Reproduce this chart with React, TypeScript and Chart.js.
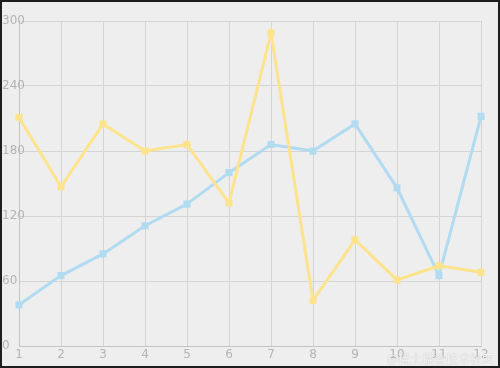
import React, { useEffect, useRef } from "react";
import { Chart, registerables } from "chart.js";

Chart.register(...registerables);

const categories = ["1", "2", "3", "4", "5", "6", "7", "8", "9", "10", "11", "12"];
const yellowValues = [211, 147, 205, 180, 186, 132, 289, 42, 98, 61, 74, 68];
const blueValues = [38, 65, 85, 111, 131, 160, 186, 180, 205, 146, 65, 212];
const yTickStep = 60;
const yMax = 300;

export default function App() {
  const ref = useRef<HTMLCanvasElement | null>(null);

  useEffect(() => {
    document.body.style.margin = "0";
    const canvas = ref.current;
    if (!canvas) return;
    const gridColor = "#d4d4d4";
    const tickColor = "#b4b4b4";
    const chart = new Chart(canvas, {
      type: "line",
      data: {
        labels: categories,
        datasets: [
          {
            data: yellowValues,
            borderColor: "#fde38c",
            backgroundColor: "#fde38c",
            borderWidth: 3,
            pointStyle: "rect",
            pointRadius: 5,
            pointBorderWidth: 0,
            tension: 0,
          },
          {
            data: blueValues,
            borderColor: "#b0dbf0",
            backgroundColor: "#b0dbf0",
            borderWidth: 3,
            pointStyle: "rect",
            pointRadius: 5,
            pointBorderWidth: 0,
            tension: 0,
          },
        ],
      },
      options: {
        animation: false,
        responsive: false,
        maintainAspectRatio: false,
        layout: { padding: { top: 19, right: 17, bottom: 0, left: 0 } },
        plugins: { legend: { display: false }, tooltip: { enabled: false } },
        scales: {
          x: {
            grid: { color: gridColor, drawTicks: false },
            border: { color: "#c4c4c4" },
            ticks: {
              color: tickColor,
              padding: 2,
              font: { family: "DejaVu Sans", size: 12 },
              maxRotation: 0,
              autoSkip: false,
            },
            afterFit: (s: any) => {
              s.height = 20;
            },
          },
          y: {
            min: 0,
            max: yMax,
            grid: { color: gridColor, drawTicks: false },
            border: { color: "#c4c4c4" },
            ticks: {
              stepSize: yTickStep,
              color: tickColor,
              mirror: true,
              padding: -17,
              font: { family: "DejaVu Sans", size: 12 },
            },
            afterFit: (s: any) => {
              s.width = 17;
            },
          },
        },
      },
    });
    return () => chart.destroy();
  }, []);

  return (
    <div
      style={{
        position: "relative",
        width: 500,
        height: 368,
        boxSizing: "border-box",
        border: "2px solid #1e1e1e",
        background: "#eeeeee",
      }}
    >
      <canvas ref={ref} width={496} height={364} style={{ display: "block", width: 496, height: 364 }} />
      <div
        style={{
          position: "absolute",
          right: 4,
          bottom: 0,
          fontFamily: "'Noto Sans CJK SC', sans-serif",
          fontSize: 12,
          color: "rgba(255,255,255,0.85)",
          textShadow: "0 0 1px rgba(120,120,120,0.6)",
          lineHeight: "14px",
        }}
      >
        @稀土掘金技术社区
      </div>
    </div>
  );
}
